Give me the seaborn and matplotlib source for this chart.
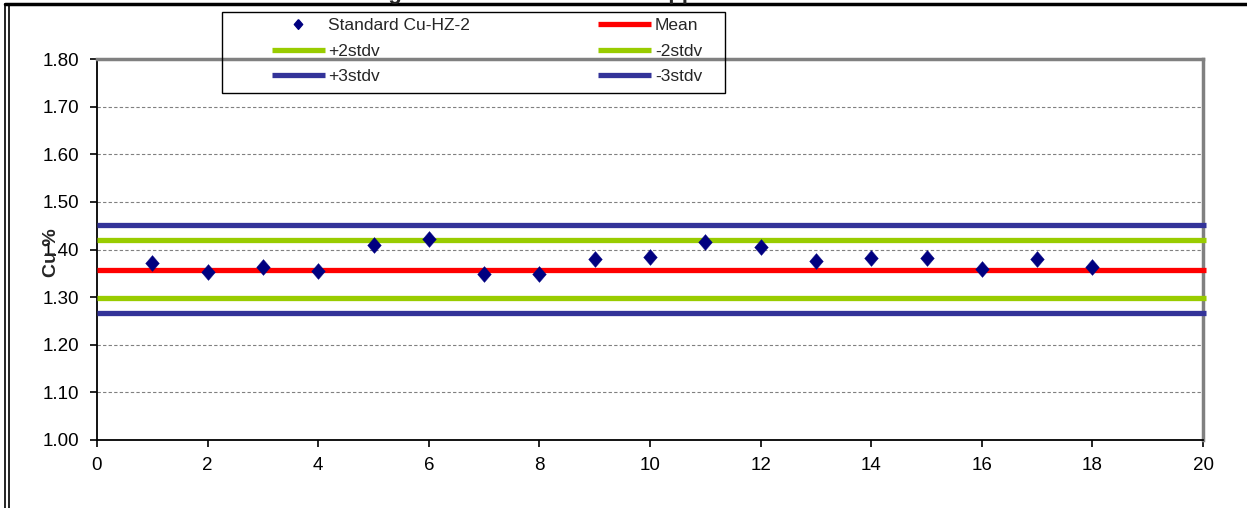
"""
Control chart for standard Cu-HZ-2 (Cu %).
"""
import matplotlib
matplotlib.use("Agg")
import matplotlib.pyplot as plt
import seaborn as sns
from matplotlib.lines import Line2D
from matplotlib.patches import Rectangle

# Data
run_no = list(range(1, 19))
cu_pct = [1.371, 1.353, 1.364, 1.354, 1.410, 1.422, 1.348, 1.348, 1.380,
          1.384, 1.415, 1.405, 1.375, 1.382, 1.382, 1.359, 1.380, 1.364]

mean_val = 1.358
plus2_val = 1.420
minus2_val = 1.298
plus3_val = 1.451
minus3_val = 1.267

y_ticks = [1.00, 1.10, 1.20, 1.30, 1.40, 1.50, 1.60, 1.70, 1.80]
x_ticks = [0, 2, 4, 6, 8, 10, 12, 14, 16, 18, 20]

BLUE = '#333399'
GREEN = '#99cc00'
RED = '#ff0000'
NAVY = '#000080'

sns.set_style("white")
plt.rcParams['font.family'] = ['Liberation Sans', 'DejaVu Sans']

W, H = 1247, 508
fig = plt.figure(figsize=(W / 100, H / 100), dpi=100)
ax = fig.add_axes([97 / W, 1 - 440 / H, 1106 / W, 381 / H])

# control limits
limits = [
    (plus3_val, BLUE, '+3stdv'),
    (plus2_val, GREEN, '+2stdv'),
    (mean_val, RED, 'Mean'),
    (minus2_val, GREEN, '-2stdv'),
    (minus3_val, BLUE, '-3stdv'),
]
lines = {}
for val, color, lab in limits:
    lines[lab] = ax.axhline(val, color=color, lw=3.8, zorder=3,
                            xmax=1.003, clip_on=False, solid_capstyle='butt')

# slightly tall diamond like the Excel marker
diamond = [(0, 1), (0.86, 0), (0, -1), (-0.86, 0), (0, 1)]
sns.scatterplot(x=run_no, y=cu_pct, marker=diamond, s=130, color=NAVY,
                edgecolor=NAVY, linewidth=0.3, ax=ax, zorder=5, legend=False)

ax.set_xlim(0, 20)
ax.set_ylim(1.0, 1.8)
ax.set_xticks(x_ticks)
ax.set_yticks(y_ticks)
ax.set_yticklabels([f'{v:.2f}' for v in y_ticks])
ax.yaxis.grid(True, linestyle=(0, (3, 2)), color='#808080', lw=0.8)
ax.xaxis.grid(False)
ax.tick_params(axis='both', direction='out', length=5, width=1.2,
               colors='black', labelsize=13.5, bottom=True, left=True)
ax.tick_params(axis='y', pad=8)
ax.tick_params(axis='x', pad=7)

for side in ['left', 'bottom']:
    ax.spines[side].set_color('black')
    ax.spines[side].set_linewidth(1.3)
for side in ['top', 'right']:
    ax.spines[side].set_color('#808080')
    ax.spines[side].set_linewidth(2.5)

ax.set_ylabel('Cu %', fontsize=14, fontweight='bold')
ax.yaxis.set_label_coords(-0.0335, 0.491)

# legend, two columns, with a plain box drawn around it
std_handle = Line2D([], [], marker=diamond, ls='none', color=NAVY, markersize=7)
handles = [std_handle, lines['+2stdv'], lines['+3stdv'],
           lines['Mean'], lines['-2stdv'], lines['-3stdv']]
labels = ['Standard Cu-HZ-2', '+2stdv', '+3stdv', 'Mean', '-2stdv', '-3stdv']
leg = fig.legend(handles, labels, ncol=2, loc='upper left', mode='expand',
                 bbox_to_anchor=(272 / W, 1 - 18 / H, 430 / W, 0),
                 fontsize=12.5, frameon=False, borderaxespad=0, borderpad=0,
                 handlelength=3.05, handletextpad=0.2, labelspacing=0.6)
fig.add_artist(Rectangle((222 / W, 1 - 93 / H), 503 / W, 81 / H, fill=False,
                         edgecolor='black', lw=1.0, transform=fig.transFigure))

# cut-off title and outer frame of the page
fig.text(0.365, 1 + 1.5 / H, 'Control Chart using Standard Cu-HZ-2 for Copper',
         ha='center', va='baseline', fontsize=16, fontweight='bold')
fig.add_artist(Line2D([5 / W, 1], [1 - 4 / H, 1 - 4 / H],
                      color='black', lw=2.5, transform=fig.transFigure))
for xx in [5, 9]:
    fig.add_artist(Line2D([xx / W, xx / W], [0, 1 - 4 / H],
                          color='black', lw=1.2, transform=fig.transFigure))

fig.savefig('out.png', dpi=100)
